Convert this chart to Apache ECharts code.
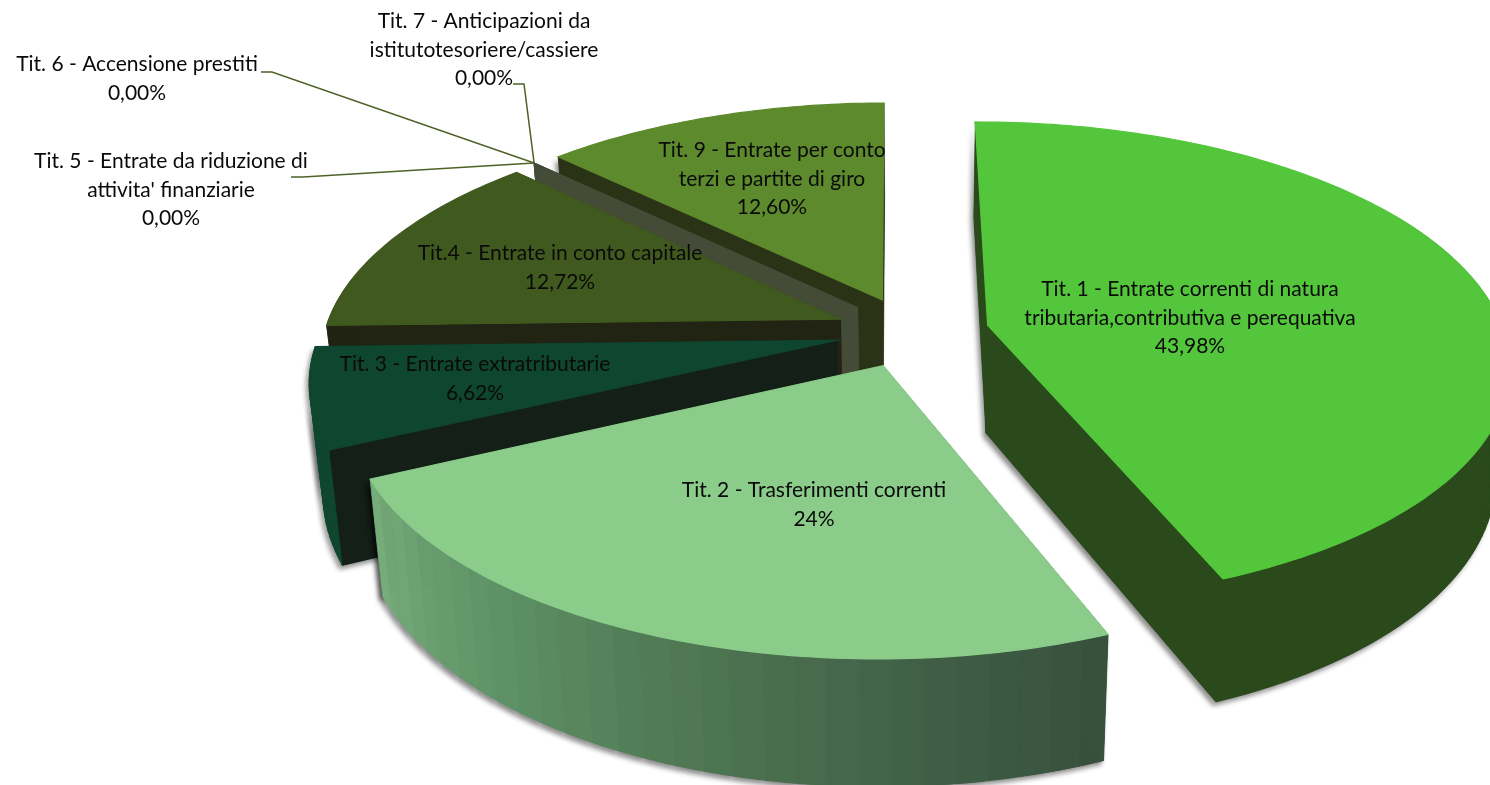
<!DOCTYPE html>
<html>
<head>
<meta charset="utf-8">
<style>
  html, body { margin: 0; padding: 0; background: #fff; }
  #main { width: 1490px; height: 785px; }
</style>
<script src="https://cdn.jsdelivr.net/npm/echarts@6/dist/echarts.min.js"></script>
</head>
<body>
<div id="main"></div>
<script>
const categories = [
  "Tit. 1 - Entrate correnti di natura\ntributaria,contributiva e perequativa",
  "Tit. 2 - Trasferimenti correnti",
  "Tit. 3 - Entrate extratributarie",
  "Tit.4 - Entrate in conto capitale",
  "Tit. 5 - Entrate da riduzione di\nattivita' finanziarie",
  "Tit. 6 - Accensione prestiti",
  "Tit. 7 - Anticipazioni da\nistitutotesoriere/cassiere",
  "Tit. 9 - Entrate per conto\nterzi e partite di giro",
]
const values = [43.98, 24, 6.62, 12.72, 0, 0, 0, 12.6]
const valueLabels = ["43,98%", "24%", "6,62%", "12,72%", "0,00%", "0,00%", "0,00%", "12,60%"]

// styles, same order as the categories
const topColors = ["#53c63b", "#8bcc8a", "#0f462f", "#40591e", "#444c38", "#444c38", "#444c38", "#5d8a2c"]
const cutColors = ["#2a4a1c", "#41604a", "#141f17", "#212412", "#444c38", "#444c38", "#444c38", "#2b3316"]
const arcColors = ["#2a4a1c", "#41604a", "#0f462f", "#212412", "#444c38", "#444c38", "#444c38", "#2b3316"]
const castsShadow = [true, true, true, false, false, false, false, true]
const labelCenters = [[1190, 318], [814, 505], [475, 379], [560, 268], [171, 190], [137, 79], [484, 50], [772, 179]]
const leaderStarts = [null, null, null, null, [[291, 177], [303, 177]], [[261, 72], [272, 72]], [[513, 84], [524, 84]], null]
const paintOrder = [7, 4, 5, 6, 3, 2, 0, 1]
const wallShades = [[118, 171, 122], [96, 148, 104], [80, 122, 84], [66, 98, 72], [54, 78, 60]]

// pie projection: world radius is 1, y grows toward the viewer
const CX = 912, CY = 332, RX = 516, RY = 236.5, PERSP = 0.154, EXPLODE = 0.15
const START_DEG = -0.3, DEPTH = 108, LINE_H = 28.6

const total = values.reduce((a, b) => a + b, 0)
const rad = (d) => (d * Math.PI) / 180

const sliceAngles = (i) => {
  let from = START_DEG
  for (let k = 0; k < i; k++) from += (values[k] / total) * 360
  return [from, from + (values[i] / total) * 360]
}

const project = (x, y) => {
  const s = 1 / (1 - PERSP * y)
  return [CX + RX * x * s, CY + RY * y * s]
}

const drop = (p) => [
  CX + (p[0] - CX) * 0.977,
  p[1] + DEPTH + 0.06 * (p[1] - 327),
]

const sliceGeo = (i) => {
  const [a0, a1] = sliceAngles(i)
  const mid = rad((a0 + a1) / 2)
  const ax = Math.sin(mid) * EXPLODE
  const ay = -Math.cos(mid) * EXPLODE
  const at = (deg) => project(ax + Math.sin(rad(deg)), ay - Math.cos(rad(deg)))
  return { a0, a1, apex: project(ax, ay), at }
}

const arcPoints = (geo, from, to) => {
  const pts = []
  const n = Math.max(1, Math.ceil(to - from))
  for (let k = 0; k <= n; k++) pts.push(geo.at(from + ((to - from) * k) / n))
  return pts
}

const mixShade = (t) => {
  const f = Math.min(0.9999, t) * (wallShades.length - 1)
  const k = Math.floor(f)
  const c = wallShades[k].map((v, j) => Math.round(v + (wallShades[k + 1][j] - v) * (f - k)))
  return `rgb(${c.join(",")})`
}

const shadow = { shadowBlur: 5, shadowColor: "rgba(0,0,0,0.45)", shadowOffsetX: -3, shadowOffsetY: 4 }

const wallPolys = (i, geo) => {
  const polys = []
  // cut faces first, they sit behind the outer wall
  ;[geo.a0, geo.a1].forEach((deg) => {
    const p = geo.at(deg)
    polys.push({ points: [geo.apex, p, drop(p), drop(geo.apex)], fill: cutColors[i], shade: true })
  })
  // outer wall, only the part turned to the viewer, swept in strips
  const from = Math.max(geo.a0, 60)
  const to = Math.min(geo.a1, 280)
  const step = i === 1 ? 3 : 1.5
  for (let d = to, n = 0; d > from; d -= step, n++) {
    const strip = arcPoints(geo, Math.max(from, d - step), d)
    const fill = i === 1 ? mixShade((to - d) / (to - from)) : arcColors[i]
    polys.push({
      points: strip.concat(strip.map(drop).reverse()),
      fill,
      opacity: i === 1 && n % 3 === 1 ? 0.94 : 1,
      shade: d >= 100,
    })
  }
  return polys
}

const renderSlice = (params, api) => {
  const i = api.value(0)
  const geo = sliceGeo(i)
  const children = []
  const polys = wallPolys(i, geo)

  // shadow pass first so no shadow lands on the slice's own faces
  if (castsShadow[i]) {
    polys.filter((p) => p.shade).forEach((p) => {
      children.push({
        type: "polygon",
        shape: { points: p.points },
        style: { fill: p.fill, ...shadow },
      })
    })
  }
  polys.forEach((p) => {
    children.push({
      type: "polygon",
      shape: { points: p.points },
      style: { fill: p.fill, stroke: p.fill, lineWidth: 0.6, opacity: p.opacity || 1 },
    })
  })

  if (values[i] > 0) {
    children.push({
      type: "polygon",
      shape: { points: [geo.apex].concat(arcPoints(geo, geo.a0, geo.a1)) },
      style: { fill: topColors[i], stroke: topColors[i], lineWidth: 1.2 },
    })
  }
  return { type: "group", children }
}

const renderLabel = (params, api) => {
  const i = api.value(0)
  const children = []
  if (leaderStarts[i]) {
    const geo = sliceGeo(i)
    children.push({
      type: "polyline",
      shape: { points: leaderStarts[i].concat([geo.at(geo.a0)]) },
      style: { fill: null, stroke: "#4f6228", lineWidth: 1.5 },
    })
  }
  children.push({
    type: "text",
    x: labelCenters[i][0],
    y: labelCenters[i][1],
    style: {
      text: categories[i] + "\n" + valueLabels[i],
      fill: "#0a0a0a",
      font: '21px Lato, "Open Sans", sans-serif',
      lineHeight: LINE_H,
      align: "center",
      verticalAlign: "middle",
    },
  })
  return { type: "group", children }
}

const myChart = echarts.init(document.getElementById("main"), null, { renderer: "canvas" })
myChart.setOption({
  animation: false,
  backgroundColor: "#ffffff",
  tooltip: { show: false },
  series: [
    {
      type: "custom",
      coordinateSystem: "none",
      silent: true,
      z: 2,
      renderItem: renderSlice,
      data: paintOrder.map((i) => [i, values[i]]),
    },
    {
      type: "custom",
      coordinateSystem: "none",
      silent: true,
      z: 5,
      renderItem: renderLabel,
      data: categories.map((c, i) => [i, values[i]]),
    },
  ],
})
</script>
</body>
</html>
